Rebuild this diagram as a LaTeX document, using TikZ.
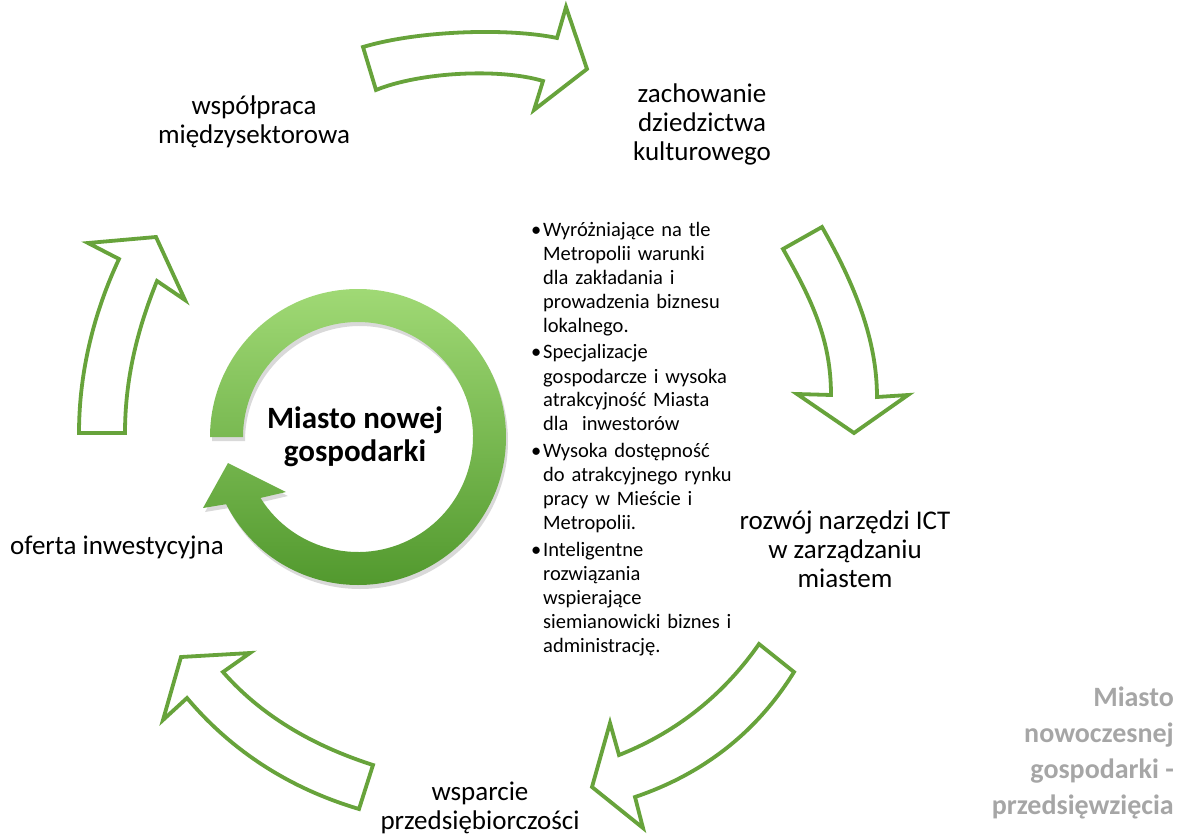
\documentclass[tikz,border=0pt]{standalone}
\usepackage{fontspec}
\setmainfont{Carlito}
\definecolor{arrowgreen}{HTML}{67A33B}
\definecolor{ringlight}{HTML}{A0D975}
\definecolor{ringdark}{HTML}{52992E}
\definecolor{graytext}{HTML}{A6A6A6}
\newcommand{\bitem}[1]{\par\hangindent=12pt\hangafter=1\noindent\makebox[12pt][l]{\textbullet}#1\par}
\tikzset{
  blockarrow/.style={draw=arrowgreen, line width=3.8pt, fill=white, line join=miter},
  biglabel/.style={align=center, font=\fontsize{27}{29}\selectfont, inner sep=0pt},
  corelabel/.style={align=center, font=\fontsize{31}{33}\selectfont\bfseries, inner sep=0pt},
  graylabel/.style={align=right, text=graytext, font=\fontsize{28}{36}\selectfont\bfseries, inner sep=0pt},
  listtext/.style={text width=230pt, inner sep=0pt, font=\fontsize{20.5}{24}\selectfont}
}
\begin{document}
\begin{tikzpicture}[x=1pt, y=-1pt]
\useasboundingbox (0,0) rectangle (1182,834);

% outline block arrows of the cycle
\draw[blockarrow] (363,47) .. controls (420,30) and (510,28) .. (557,38) -- (566,7) -- (587,69) -- (534,110) -- (543,81) .. controls (500,68) and (420,72) .. (376,90) -- cycle;
\draw[blockarrow] (822,227) .. controls (855,285) and (877,340) .. (877,397) -- (908,395) -- (854,433) -- (797,394) -- (831,395) .. controls (831,340) and (812,300) .. (783,249) -- cycle;
\draw[blockarrow] (794,672) .. controls (755,735) and (700,775) .. (635,797) -- (643,828) -- (592,787) -- (610,723) -- (619,755) .. controls (670,735) and (720,700) .. (759,644) -- cycle;
\draw[blockarrow] (359,809) .. controls (295,790) and (235,755) .. (187,698) -- (163,720) -- (181,657) -- (250,653) -- (223,672) .. controls (265,720) and (320,748) .. (373,765) -- cycle;
\draw[blockarrow] (125,433) .. controls (125,380) and (137,330) .. (157,281) -- (185,300) -- (156,237) -- (88,243) -- (119,259) .. controls (95,310) and (79,370) .. (79,433) -- cycle;

% central circular arrow
\begin{scope}[shift={(358,437)}, x=1pt, y=1pt]
  \fill[black, opacity=0.15, shift={(2,-4)}] (180:148) arc[start angle=180, end angle=-153, radius=148] -- (-155,-71) -- (-130,-26) -- (-72,-55) -- (-148:115) arc[start angle=-148, end angle=180, radius=115] -- cycle;
  \shade[top color=ringlight, bottom color=ringdark] (180:148) arc[start angle=180, end angle=-153, radius=148] -- (-155,-71) -- (-130,-26) -- (-72,-55) -- (-148:115) arc[start angle=-148, end angle=180, radius=115] -- cycle;
\end{scope}

% labels
\node[corelabel] (core) at (355,437) {Miasto nowej\\gospodarki};
\node[biglabel] (coop) at (254,122) {współpraca\\międzysektorowa};
\node[biglabel] (heritage) at (702,124) {zachowanie\\dziedzictwa\\kulturowego};
\node[biglabel] (ict) at (845,549) {rozwój narzędzi ICT\\w zarządzaniu\\miastem};
\node[biglabel] (support) at (480,808) {wsparcie\\przedsiębiorczości};
\node[biglabel, anchor=west] (offer) at (10,548) {oferta inwestycyjna};
\node[graylabel, anchor=east] (title) at (1174,753) {Miasto\\nowoczesnej\\gospodarki -\\przedsięwzięcia};

\node[listtext, anchor=base west] (list) at (531,210) {%
\setlength{\parskip}{2.5pt}\rightskip=0pt plus 1fil\relax
\bitem{Wyróżniające na tle\newline Metropolii warunki\newline dla zakładania i\newline prowadzenia biznesu\newline lokalnego.}%
\bitem{Specjalizacje\newline gospodarcze i wysoka\newline atrakcyjność Miasta\newline dla~ inwestorów}%
\bitem{Wysoka dostępność\newline do atrakcyjnego rynku\newline pracy w Mieście i\newline Metropolii.}%
\bitem{Inteligentne\newline rozwiązania\newline wspierające\newline siemianowicki biznes i\newline administrację.}};
\end{tikzpicture}
\end{document}
